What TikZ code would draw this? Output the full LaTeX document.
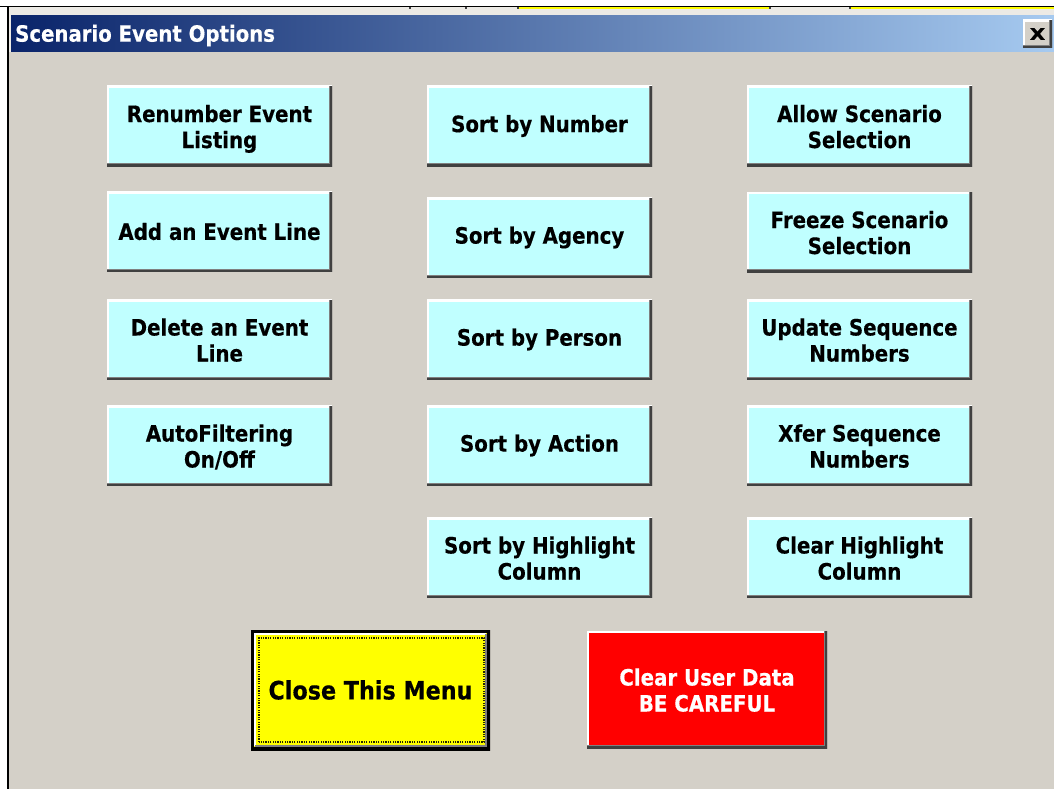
\documentclass[tikz,border=0pt]{standalone}
\usepackage{fontspec}
\newfontfamily\uifont{DejaVu Sans Bold}[FakeStretch=0.88,FakeBold=0.4]
\newfontfamily\glyphfont{DejaVu Sans Bold}[FakeStretch=1.25,FakeBold=1]
% fixed height for the first and depth for the last line of two-line labels
\newcommand{\tallstrut}{\rule{0pt}{24pt}}
\newcommand{\deepstrut}{\rule[-6pt]{0pt}{6pt}}
\definecolor{face}{HTML}{D4D0C8}
\definecolor{band}{HTML}{ECEAE5}
\definecolor{cyanface}{RGB}{192,255,255}
\definecolor{shadowgray}{HTML}{808080}
\definecolor{shadowdark}{HTML}{404040}
\definecolor{titleleft}{HTML}{0A246A}
\definecolor{titleright}{HTML}{A6CAF0}
\definecolor{hiyellow}{HTML}{FFFF00}
\definecolor{hired}{HTML}{FF0000}
\begin{document}
\begin{tikzpicture}[x=1pt,y=-1pt,
  bevel/.style={path picture={
    \draw[line width=4pt,white]
      (path picture bounding box.south west) |- (path picture bounding box.north east);
    \draw[line width=6pt,shadowgray]
      (path picture bounding box.south west) -| (path picture bounding box.north east);
    \draw[line width=4pt,shadowdark]
      (path picture bounding box.south west) -| (path picture bounding box.north east);
  }},
  framed/.style={path picture={
    \draw[line width=6pt,black]
      (path picture bounding box.south west) rectangle (path picture bounding box.north east);
    \draw[line width=2pt,white]
      ([shift={(4pt,4pt)}]path picture bounding box.south west) |- ([shift={(-4pt,-4pt)}]path picture bounding box.north east);
    \draw[line width=2pt,shadowgray]
      ([shift={(4pt,4pt)}]path picture bounding box.south west) -| ([shift={(-4pt,-4pt)}]path picture bounding box.north east);
    \draw[line width=1.2pt,black!85!hiyellow,dash pattern=on 1.2pt off 1.2pt]
      ([shift={(8pt,8pt)}]path picture bounding box.south west) rectangle ([shift={(-6pt,-8pt)}]path picture bounding box.north east);
  }},
  btn/.style={bevel, fill=cyanface, minimum width=225pt, minimum height=80pt,
    inner sep=0pt, align=center, text=black,
    font=\uifont\fontsize{22.5}{26}\selectfont},
  tick/.style={fill=shadowdark, draw=none}
]
\useasboundingbox (0,0) rectangle (1054,789);

% desktop strip and spreadsheet edge behind the dialog
\fill[white] (0,0) rectangle (1054,7);
\fill[band] (9,7) rectangle (1054,16);
\fill[hiyellow] (518,7.5) rectangle (770,9.5);
\fill[hiyellow] (850,7.5) rectangle (1054,9.5);
\fill[black] (0,5.8) rectangle (1054,7.4);
\foreach \t in {410,466,518,770,850} \fill[tick] (\t-1,7.4) rectangle (\t+1,9.5);

% dialog body and frame
\fill[face] (9,16) rectangle (1054,789);
\fill[band] (9,16) rectangle (11,52);
\fill[black] (7,5.8) rectangle (8.8,789);

% title bar
\shade[left color=titleleft, right color=titleright] (11,16) rectangle (1054,52);
\node[anchor=west, inner sep=0pt, text=white,
  font=\uifont\fontsize{22.4}{26}\selectfont] (title) at (15,35.5) {Scenario Event Options};
\node[bevel, fill=face, minimum width=29pt, minimum height=28pt, inner sep=0pt,
  font=\glyphfont\fontsize{16}{16}\selectfont] (closex) at (1037.5,34) {X};

% first column
\node[btn] (renumber) at (219.5,126)   {\tallstrut Renumber Event\\Listing\deepstrut};
\node[btn] (addline)  at (219.5,231.5) {Add an Event Line};
\node[btn] (delline)  at (219.5,339.5) {\tallstrut Delete an Event\\Line\deepstrut};
\node[btn] (autofilt) at (219.5,445.5) {\tallstrut AutoFiltering\\On/Off\deepstrut};

% second column
\node[btn] (sortnum)    at (539.5,126)   {Sort by Number};
\node[btn] (sortagency) at (539.5,237.5) {Sort by Agency};
\node[btn] (sortperson) at (539.5,339.5) {Sort by Person};
\node[btn] (sortaction) at (539.5,445.5) {Sort by Action};
\node[btn] (sorthigh)   at (539.5,557.5) {\tallstrut Sort by Highlight\\Column\deepstrut};

% third column
\node[btn] (allowsel)  at (859.5,126)   {\tallstrut Allow Scenario\\Selection\deepstrut};
\node[btn] (freezesel) at (859.5,232)   {\tallstrut Freeze Scenario\\Selection\deepstrut};
\node[btn] (updseq)    at (859.5,339.5) {\tallstrut Update Sequence\\Numbers\deepstrut};
\node[btn] (xferseq)   at (859.5,445.5) {\tallstrut Xfer Sequence\\Numbers\deepstrut};
\node[btn] (clearhigh) at (859.5,557.5) {\tallstrut Clear Highlight\\Column\deepstrut};

% bottom row
\node[framed, fill=hiyellow, minimum width=239pt, minimum height=120pt, inner sep=0pt,
  text=black, font=\uifont\fontsize{25.3}{30}\selectfont] (closemenu) at (370.5,690) {Close This Menu};
\node[bevel, fill=hired, minimum width=240pt, minimum height=117pt, inner sep=0pt,
  align=center, text=white, font=\uifont\fontsize{22.5}{26}\selectfont] (cleardata) at (707,689.5)
  {\tallstrut Clear User Data\\BE CAREFUL\deepstrut};
\end{tikzpicture}
\end{document}
